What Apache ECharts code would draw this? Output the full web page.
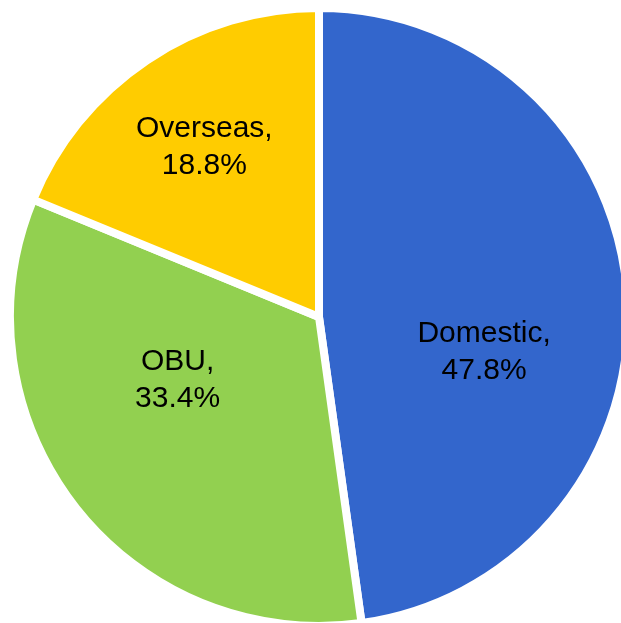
<!DOCTYPE html>
<html><head><meta charset="utf-8">
<script src="https://cdn.jsdelivr.net/npm/echarts@6/dist/echarts.min.js"></script>
<style>html,body{margin:0;padding:0;background:#fff}#c{width:621px;height:623px}</style>
</head><body><div id="c"></div>
<script>
var categories = ["Domestic", "OBU", "Overseas"];
var shares = [47.8, 33.4, 18.8];
var colors = ["#3366CC", "#92D050", "#FFCC00"];
var labelShift = [[8, 46], [-17, -33], [-27, -39]];

var chart = echarts.init(document.getElementById('c'));
chart.setOption({
  animation: false,
  series: [{
    type: 'pie',
    center: [319, 317],
    radius: [0, 309],
    startAngle: 90,
    clockwise: true,
    silent: true,
    data: categories.map(function (c, i) {
      return { name: c, value: shares[i], itemStyle: { color: colors[i] } };
    }),
    itemStyle: { borderColor: '#ffffff', borderWidth: 8 },
    label: {
      show: true,
      position: 'inside',
      formatter: function (p) { return p.name + ',\n' + p.value.toFixed(1) + '%'; },
      fontFamily: 'Liberation Sans, Arial, sans-serif',
      fontSize: 30,
      lineHeight: 37,
      color: '#000000',
      align: 'center'
    },
    labelLayout: function (p) {
      var s = labelShift[p.dataIndex];
      return { dx: s[0], dy: s[1] };
    },
    labelLine: { show: false }
  }]
});
</script></body></html>
